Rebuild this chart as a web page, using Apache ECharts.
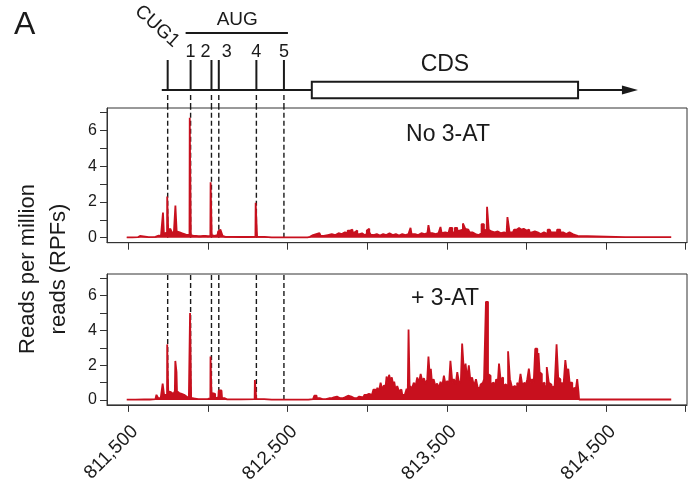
<!DOCTYPE html>
<html>
<head>
<meta charset="utf-8">
<script src="https://cdn.jsdelivr.net/npm/echarts@6/dist/echarts.min.js"></script>
<style>
  html, body { margin: 0; padding: 0; background: #fff; }
  #chart { width: 689px; height: 486px; }
</style>
</head>
<body>
<div id="chart"></div>
<script>
// genomic window (nt)
const xMin = 811366;
const xMax = 815008;
const tickPos = [811500, 812000, 812500, 813000, 813500, 814000, 814500, 815000];
const labelPos = [811500, 812500, 813500, 814500];
const yTicks = [0, 1, 2, 3, 4, 5, 6, 7];
const yLabels = [0, 2, 4, 6];

// start codons: CUG1 + AUG 1-5
const siteNames = ["CUG1", "1", "2", "3", "4", "5"];
const sitePos = [811747, 811891, 812022, 812068, 812304, 812477];

// transcript start, CDS start, CDS end, arrow tip
const transcript = [811710, 812652, 814324, 814700];

// RPF reads, no 3-AT  [position, reads]
const noAT = [
  [811490, 0.02], [811560, 0.03], [811573, 0.1], [811585, 0.03], [811670, 0.05], [811690, 0.12], [811705, 0.1],
  [811716, 0.2], [811719, 1.4], [811722, 1.4], [811725, 0.2],
  [811743, 0.3], [811745, 2.3], [811749, 2.3], [811752, 0.4],
  [811760, 0.5], [811768, 0.55], [811778, 0.3],
  [811794, 0.3], [811797, 1.8], [811802, 1.8], [811805, 0.35],
  [811815, 0.3], [811830, 0.25], [811845, 0.2], [811860, 0.15], [811875, 0.12],
  [811884, 0.15], [811887, 6.7], [811891, 6.7], [811894, 0.15],
  [811910, 0.1], [811940, 0.08], [811970, 0.1], [812000, 0.08],
  [812015, 0.1], [812018, 3.1], [812022, 3.1], [812025, 0.15],
  [812040, 0.1], [812060, 0.15], [812068, 0.35], [812078, 0.45], [812088, 0.4], [812095, 0.1], [812110, 0.05], [812200, 0.04],
  [812298, 0.05], [812301, 1.95], [812307, 1.95], [812310, 0.05],
  [812400, 0.02], [812610, 0.02], [812640, 0.05], [812660, 0.15], [812680, 0.2], [812700, 0.25], [812715, 0.1],
  [812740, 0.15], [812765, 0.2], [812790, 0.15], [812810, 0.25], [812830, 0.2], [812850, 0.3], [812870, 0.25],
  [812885, 0.4], [812900, 0.45], [812915, 0.3], [812930, 0.4], [812945, 0.2], [812960, 0.25], [812975, 0.15],
  [812990, 0.2], [813005, 0.4], [813010, 0.5], [813016, 0.3], [813030, 0.15], [813050, 0.2], [813070, 0.12],
  [813090, 0.2], [813110, 0.15], [813130, 0.25], [813150, 0.15], [813170, 0.2], [813190, 0.12], [813210, 0.2],
  [813230, 0.15], [813250, 0.2], [813268, 0.15], [813276, 0.55], [813281, 0.2], [813300, 0.2], [813320, 0.15],
  [813340, 0.25], [813360, 0.2], [813378, 0.25], [813391, 0.7], [813396, 0.25], [813420, 0.2], [813440, 0.25],
  [813455, 0.2], [813465, 0.6], [813470, 0.25], [813490, 0.3], [813510, 0.25], [813528, 0.55], [813540, 0.3],
  [813560, 0.55], [813570, 0.4], [813590, 0.45], [813612, 0.8], [813620, 0.5], [813635, 0.45], [813650, 0.3],
  [813670, 0.2], [813690, 0.15], [813710, 0.25], [813726, 0.75], [813740, 0.45], [813750, 0.4],
  [813755, 1.73], [813760, 1.73], [813766, 0.45], [813780, 0.35], [813800, 0.3], [813820, 0.35], [813840, 0.25],
  [813860, 0.3], [813875, 0.25], [813886, 1.15], [813891, 1.15], [813897, 0.3], [813915, 0.3], [813930, 0.45],
  [813947, 0.55], [813960, 0.45], [813975, 0.5], [813990, 0.4], [814010, 0.45], [814025, 0.3], [814045, 0.35],
  [814060, 0.3], [814080, 0.2], [814100, 0.3], [814120, 0.2], [814146, 0.45], [814160, 0.3], [814180, 0.3],
  [814204, 0.45], [814220, 0.3], [814240, 0.2], [814260, 0.3], [814280, 0.2], [814300, 0.15], [814313, 0.1],
  [814330, 0.03], [814909, 0.03]
];

// RPF reads, + 3-AT
const plusAT = [
  [811490, 0.02], [811600, 0.03], [811670, 0.05], [811683, 0.3], [811692, 0.1],
  [811714, 0.15], [811717, 0.95], [811723, 0.95], [811726, 0.3],
  [811743, 0.3], [811745, 3.2], [811749, 3.2], [811752, 0.5],
  [811760, 0.45], [811775, 0.35], [811790, 0.4],
  [811794, 0.5], [811796, 2.25], [811801, 2.2], [811804, 1.6], [811807, 0.5],
  [811820, 0.4], [811835, 0.35], [811850, 0.3], [811865, 0.2], [811880, 0.1],
  [811886, 0.1], [811889, 5.0], [811893, 5.0], [811896, 0.1],
  [811920, 0.05], [811960, 0.05], [812000, 0.06],
  [812015, 0.1], [812017, 2.5], [812021, 2.5], [812024, 0.2],
  [812032, 0.4], [812040, 0.35], [812050, 0.1], [812065, 0.15], [812070, 0.55], [812085, 0.55], [812092, 0.1], [812120, 0.04],
  [812293, 0.05], [812296, 1.15], [812302, 1.15], [812305, 0.05],
  [812400, 0.02], [812600, 0.02], [812660, 0.05], [812675, 0.25], [812690, 0.1], [812720, 0.05], [812760, 0.1],
  [812790, 0.15], [812810, 0.2], [812830, 0.1], [812860, 0.15], [812880, 0.25], [812900, 0.2], [812920, 0.1],
  [812950, 0.2], [812975, 0.15], [812990, 0.3], [813005, 0.35],
  [813017, 0.4], [813030, 0.3], [813048, 0.6], [813058, 0.35], [813069, 0.7], [813078, 0.5], [813090, 1.0],
  [813100, 0.6], [813111, 0.85], [813118, 0.7], [813125, 1.35], [813133, 1.0], [813142, 1.45], [813150, 1.1],
  [813159, 1.3], [813166, 0.9], [813173, 1.05], [813183, 0.6], [813194, 0.8], [813204, 0.5], [813215, 0.6],
  [813225, 0.3], [813236, 0.3], [813244, 0.4], [813251, 0.65], [813258, 0.4],
  [813261, 4.05], [813265, 4.05], [813268, 0.6],
  [813274, 0.8], [813285, 0.6], [813299, 1.0], [813308, 0.8], [813320, 1.3], [813330, 1.0], [813341, 1.5],
  [813350, 1.1], [813362, 1.25], [813372, 0.9], [813382, 1.2],
  [813387, 2.5], [813391, 2.5], [813396, 1.3], [813403, 1.8], [813410, 1.0], [813424, 1.2], [813433, 0.8],
  [813445, 0.95], [813455, 0.7], [813466, 1.05], [813476, 0.8], [813487, 1.4], [813497, 0.9], [813508, 1.1], [813518, 0.8],
  [813527, 2.25], [813531, 2.25], [813538, 1.0], [813550, 1.2], [813560, 0.9], [813571, 1.6], [813578, 1.1],
  [813585, 1.0], [813592, 1.2],
  [813600, 3.25], [813604, 3.25], [813612, 1.5], [813623, 2.1], [813632, 1.2], [813644, 2.0], [813652, 1.1],
  [813665, 1.3], [813676, 0.8], [813690, 1.2], [813698, 0.7], [813707, 0.7], [813717, 0.9], [813727, 1.0], [813740, 1.2],
  [813751, 5.65], [813755, 5.65], [813762, 1.5], [813769, 1.4], [813780, 0.9], [813794, 1.0], [813805, 0.7],
  [813815, 1.2], [813825, 1.0],
  [813830, 2.1], [813834, 2.1], [813840, 1.2], [813849, 1.3], [813858, 0.8], [813870, 0.9], [813880, 0.8],
  [813889, 2.8], [813893, 2.8], [813899, 1.2], [813905, 1.0], [813915, 0.7], [813926, 0.8], [813936, 0.7],
  [813947, 1.0], [813957, 0.8], [813968, 1.5], [813978, 0.9], [813989, 1.0], [814000, 0.8], [814010, 1.2],
  [814020, 1.8], [814030, 1.0], [814041, 1.2], [814050, 1.0],
  [814060, 2.95], [814064, 2.95], [814072, 2.0], [814079, 2.7], [814086, 1.6], [814093, 1.5], [814100, 0.9],
  [814108, 1.0], [814120, 0.8], [814135, 1.9], [814145, 1.0], [814156, 0.9], [814166, 0.7], [814177, 0.8], [814186, 0.9],
  [814192, 3.2], [814196, 3.2], [814202, 1.3], [814208, 1.2], [814218, 0.8], [814225, 1.0], [814238, 0.7],
  [814250, 2.3], [814258, 1.5], [814267, 1.8], [814275, 1.0], [814282, 1.0], [814293, 0.6], [814303, 0.7],
  [814313, 0.5], [814324, 1.2], [814329, 0.5], [814332, 0.03], [814909, 0.03]
];

const yMin = -0.28;
const yMax = 7.25;
const red = "#c8101e";
const ink = "#1a1a1a";
const font = "'Liberation Sans', Arial, sans-serif";

var myChart = echarts.init(document.getElementById("chart"));

// gene track: y in track units (0 = top of upper panel)
function renderSite(params, api) {
  const i = params.dataIndex;
  const x = api.value(0);
  const foot = api.coord([x, 18]);
  const head = api.coord([x, 48]);
  const d1 = api.coord([x, 13]);
  const d2 = api.coord([x, 0]);
  const children = [
    { type: "line", shape: { x1: foot[0], y1: foot[1], x2: head[0], y2: head[1] }, style: { stroke: ink, lineWidth: 2 } },
    { type: "line", shape: { x1: d1[0], y1: d1[1], x2: d2[0], y2: d2[1] }, style: { stroke: ink, lineWidth: 1.4, lineDash: [5, 3] } },
  ];
  if (i === 0) {
    const p = api.coord([x, 64]);
    children.push({
      type: "text", x: p[0] + 9, y: p[1], rotation: -42 * Math.PI / 180,
      style: { text: siteNames[i], fontSize: 19, fontFamily: font, fill: ink, align: "right", verticalAlign: "middle" },
    });
  } else {
    const p = api.coord([x, 56]);
    let dx = 0;
    const prev = i > 1 ? api.coord([sitePos[i - 1], 0])[0] : -999;
    const next = i < sitePos.length - 1 ? api.coord([sitePos[i + 1], 0])[0] : 9999;
    if (next - p[0] < 12) dx = -6;
    if (p[0] - prev < 12) dx = 8;
    children.push({
      type: "text", x: p[0] + dx, y: p[1],
      style: { text: siteNames[i], fontSize: 18, fontFamily: font, fill: ink, align: "center", verticalAlign: "middle" },
    });
  }
  return { type: "group", children: children };
}

function renderTranscript(params, api) {
  const a = api.coord([api.value(0), 18]);
  const b = api.coord([api.value(1), 18]);
  const c = api.coord([api.value(2), 18]);
  const d = api.coord([api.value(3), 18]);
  const top = api.coord([api.value(1), 26.3])[1];
  const bot = api.coord([api.value(1), 9.7])[1];
  const aug1 = api.coord([sitePos[1], 75]);
  const aug5 = api.coord([sitePos[sitePos.length - 1], 75]);
  const augText = api.coord([sitePos[1], 88]);
  const cdsText = api.coord([api.value(1), 43]);
  return {
    type: "group",
    children: [
      { type: "line", shape: { x1: a[0], y1: a[1], x2: b[0], y2: b[1] }, style: { stroke: ink, lineWidth: 2 } },
      { type: "line", shape: { x1: c[0], y1: c[1], x2: d[0] - 12, y2: d[1] }, style: { stroke: ink, lineWidth: 2 } },
      { type: "polygon", shape: { points: [[d[0], d[1]], [d[0] - 16, d[1] - 4.5], [d[0] - 16, d[1] + 4.5]] }, style: { fill: ink } },
      { type: "rect", shape: { x: b[0], y: top, width: c[0] - b[0], height: bot - top }, style: { fill: "#fff", stroke: ink, lineWidth: 2 } },
      { type: "text", x: (b[0] + c[0]) / 2, y: cdsText[1], style: { text: "CDS", fontSize: 23, fontFamily: font, fill: ink, align: "center", verticalAlign: "middle" } },
      { type: "line", shape: { x1: aug1[0] - 5, y1: aug1[1], x2: aug5[0] + 4, y2: aug5[1] }, style: { stroke: ink, lineWidth: 2 } },
      { type: "text", x: (aug1[0] + aug5[0]) / 2, y: augText[1], style: { text: "AUG", fontSize: 19, fontFamily: font, fill: ink, align: "center", verticalAlign: "middle" } },
    ],
  };
}

function renderGuide(params, api) {
  const p1 = api.coord([api.value(0), 0]);
  const p2 = api.coord([api.value(0), yMax]);
  return { type: "line", shape: { x1: p1[0], y1: p1[1], x2: p2[0], y2: p2[1] }, style: { stroke: ink, lineWidth: 1.4, lineDash: [5, 3] } };
}

function panelX(idx, withLabels) {
  return {
    gridIndex: idx,
    type: "value",
    min: xMin,
    max: xMax,
    splitLine: { show: false },
    axisLine: { show: true, onZero: false, lineStyle: { color: "#333", width: 1 } },
    axisTick: { show: true, customValues: tickPos, length: 7, lineStyle: { color: "#333" } },
    axisLabel: {
      show: withLabels,
      customValues: labelPos,
      rotate: 45,
      margin: 17,
      verticalAlign: "top",
      fontSize: 19,
      fontFamily: font,
      color: ink,
      formatter: function (v) {
        return v.toLocaleString("en-US");
      },
    },
  };
}

function panelY(idx) {
  return {
    gridIndex: idx,
    type: "value",
    min: yMin,
    max: yMax,
    splitLine: { show: false },
    axisLine: { show: true, lineStyle: { color: "#333", width: 1 } },
    axisTick: { show: true, customValues: yTicks, length: 7, lineStyle: { color: "#333" } },
    axisLabel: { customValues: yLabels, margin: 10, fontSize: 16, fontFamily: font, color: ink },
  };
}

function readsSeries(name, idx, data) {
  return {
    name: name,
    type: "line",
    xAxisIndex: idx,
    yAxisIndex: idx,
    z: 3,
    data: data,
    step: "middle",
    showSymbol: false,
    lineStyle: { color: red, width: 1.8 },
    areaStyle: { color: red, opacity: 1 },
  };
}

let option = {
  animation: false,
  backgroundColor: "#fff",
  grid: [
    { left: 107, width: 580, top: 8, height: 100 },
    { left: 107, width: 580, top: 108, height: 134.7, show: true, borderColor: "#333", borderWidth: 1 },
    { left: 107, width: 580, top: 274, height: 135, show: true, borderColor: "#333", borderWidth: 1 },
  ],
  xAxis: [
    { gridIndex: 0, type: "value", min: xMin, max: xMax, show: false },
    panelX(1, false),
    panelX(2, true),
  ],
  yAxis: [
    { gridIndex: 0, type: "value", min: 0, max: 100, show: false },
    panelY(1),
    panelY(2),
  ],
  graphic: [
    { type: "text", left: 14, top: 9, style: { text: "A", fontSize: 32, fontFamily: font, fill: ink } },
    {
      type: "text", x: 43, y: 269, rotation: Math.PI / 2,
      style: { text: "Reads per million\nreads (RPFs)", fontSize: 22, lineHeight: 31, fontFamily: font, fill: ink, align: "center", verticalAlign: "middle" },
    },
    { type: "text", x: 448, y: 135, style: { text: "No 3-AT", fontSize: 23, fontFamily: font, fill: ink, align: "center", verticalAlign: "middle" } },
    { type: "text", x: 445, y: 299, style: { text: "+ 3-AT", fontSize: 23, fontFamily: font, fill: ink, align: "center", verticalAlign: "middle" } },
  ],
  series: [
    { type: "custom", xAxisIndex: 0, yAxisIndex: 0, clip: false, renderItem: renderTranscript, data: [transcript] },
    { type: "custom", xAxisIndex: 0, yAxisIndex: 0, clip: false, renderItem: renderSite, data: sitePos.map((v) => [v]) },
    { type: "custom", xAxisIndex: 1, yAxisIndex: 1, z: 1, renderItem: renderGuide, data: sitePos.map((v) => [v]) },
    { type: "custom", xAxisIndex: 2, yAxisIndex: 2, z: 1, renderItem: renderGuide, data: sitePos.map((v) => [v]) },
    readsSeries("No 3-AT", 1, noAT),
    readsSeries("+ 3-AT", 2, plusAT),
  ],
};

myChart.setOption(option);
</script>
</body>
</html>
